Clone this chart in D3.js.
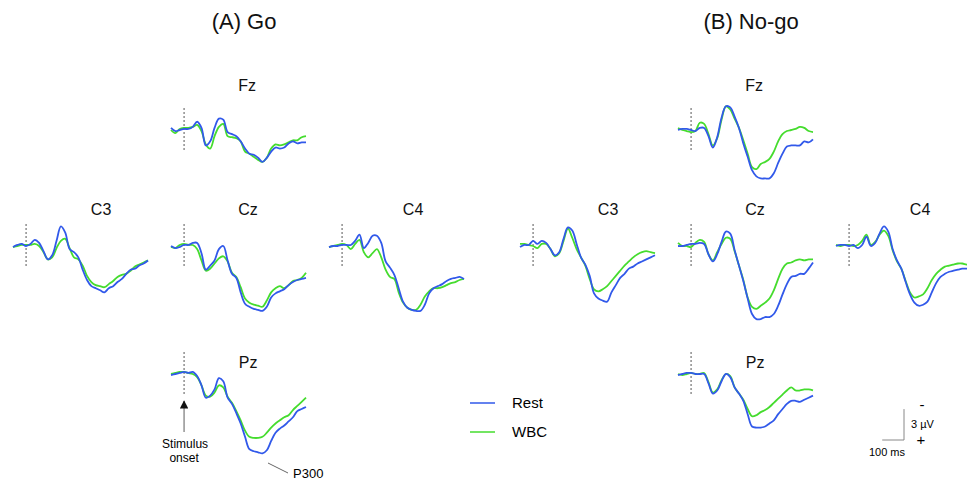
<!DOCTYPE html>
<html>
<head>
<meta charset="utf-8">
<script src="https://cdn.jsdelivr.net/npm/d3@7"></script>
<style>
  body { margin: 0; background: #fff; }
  svg { font-family: "Liberation Sans", Arial, sans-serif; }
</style>
</head>
<body>
<svg id="chart" width="967" height="483"></svg>
<script>
// sample times (ms), every 20 ms from -60 to 560
var times = [-60,-40,-20,0,20,40,60,80,100,120,140,160,180,200,220,240,260,280,300,320,340,360,380,400,420,440,460,480,500,520,540,560];

var conditions = ["Go", "No-go"];
var conditionTitles = ["(A) Go", "(B) No-go"];
var electrodes = ["Fz", "C3", "Cz", "C4", "Pz"];
var seriesNames = ["Rest", "WBC"];

// amplitudes in microvolts, positive plotted downward
var goFzRest = [-0.2,0.1,0,-0.1,-0.1,-0.3,-0.8,-0.2,1.5,1.1,-0.2,-1.1,-1.0,0.2,0.4,0.6,1.1,1.8,2.3,2.4,2.7,3.1,2.7,2.1,1.7,1.8,1.7,1.3,1.1,1.3,1.2,1.2];
var goFzWbc  = [0,0.3,-0.1,-0.2,-0.2,-0.3,-0.5,0.1,1.4,1.8,0.6,-0.3,-0.6,0.6,0.7,0.8,1.1,2.1,2.3,2.6,2.9,3.1,2.7,1.8,1.4,1.5,1.4,1.2,1.0,1.0,0.7,0.6];
var goC3Rest = [0.1,-0.1,-0.2,0,-0.2,-0.6,-0.3,0.5,1.3,0.9,-0.5,-1.9,-1.3,0.3,0.6,1.1,2.3,3.3,3.9,4.1,4.3,4.5,4.1,3.9,3.5,3.2,2.7,2.3,2.2,1.9,1.7,1.4];
var goC3Wbc  = [0.1,0,-0.1,-0.1,-0.1,-0.2,0,0.6,1.3,1.1,0.2,-0.5,-0.7,0.2,1.1,1.3,1.9,2.9,3.5,3.8,3.9,4.0,3.7,3.4,3.0,2.8,2.7,2.4,2.0,1.8,1.6,1.4];
var goCzRest = [0,0.2,0.1,-0.1,-0.1,-0.3,-0.3,0.7,2.3,1.9,1.4,0.3,0,1.4,2.7,3.1,4.5,5.6,5.9,6.1,6.2,6.3,5.9,5.0,4.6,4.4,4.2,3.8,3.5,3.3,3.2,3.1];
var goCzWbc  = [0.1,0.2,-0.1,-0.2,-0.1,-0.1,0.3,1.4,2.4,2.2,1.7,1.2,1.0,1.5,2.6,3.0,4.0,5.1,5.5,5.7,5.8,5.9,5.3,4.5,4.1,3.9,4.1,3.8,3.4,3.3,3.1,2.6];
var goC4Rest = [0.1,0,0,-0.1,-0.1,-0.1,-0.5,-1.1,0.2,-0.3,-1.0,-1.0,-0.3,1.5,2.1,2.8,4.1,5.4,6.0,6.2,6.3,6.3,5.7,4.6,4.1,3.9,3.7,3.4,3.2,3.1,3.0,3.2];
var goC4Wbc  = [0.1,0,-0.1,-0.2,-0.1,0.3,-0.2,-0.6,0.6,1.1,0.7,0.3,1.1,2.3,3.0,3.2,4.5,5.5,6.0,6.2,6.2,5.7,4.9,4.4,4.1,4.1,4.0,3.8,3.6,3.5,3.3,3.2];
var goPzRest = [0.1,0,-0.1,-0.2,-0.1,-0.2,0.2,1.1,2.3,2.1,1.5,0.4,0.7,2.3,2.9,3.8,4.8,6.1,7.3,7.5,7.6,7.7,7.4,6.5,5.7,5.3,5.0,4.6,4.2,3.6,3.4,3.2];
var goPzWbc  = [0,-0.1,-0.2,-0.2,-0.1,0,0.3,1.1,2.1,2.2,1.8,1.1,1.3,2.2,2.8,3.6,4.5,5.5,6.1,6.2,6.2,6.1,5.7,5.2,4.8,4.5,4.2,4.0,3.5,3.1,2.7,2.3];

var nogoFzRest = [0,-0.1,-0.1,0,0.1,-0.2,-0.2,0.6,1.7,0.7,-1.2,-2.3,-2.2,-1.3,-0.2,1.3,2.6,3.9,4.5,4.7,4.7,4.7,4.2,3.2,2.3,1.6,1.5,1.5,1.5,1.1,1.2,0.9];
var nogoFzWbc  = [-0.2,0,0.1,0.2,0.1,-0.7,-0.6,0.4,1.5,0.8,-1.0,-2.3,-2.0,-1.1,-0.2,1.0,2.3,3.6,3.8,3.3,3.1,2.8,2.1,1.1,0.4,0.1,0,-0.1,-0.3,-0.2,0.1,0.2];
var nogoC3Rest = [0.1,-0.1,-0.1,-0.5,-0.2,-0.5,-0.3,0.3,0.9,0.6,-0.7,-1.8,-1.5,-0.2,1.1,1.8,2.9,4.6,5.1,5.3,5.4,4.5,3.8,3.1,2.7,2.2,2.0,1.7,1.5,1.3,1.1,0.9];
var nogoC3Wbc  = [-0.2,-0.2,-0.1,0,0.2,-0.2,-0.2,0.3,1.0,0.7,-0.5,-1.7,-0.8,0.3,1.1,1.9,3.2,4.2,4.4,4.2,3.9,3.4,2.9,2.4,1.9,1.5,1.1,0.8,0.6,0.5,0.6,0.7];
var nogoCzRest = [0,0,-0.1,-0.2,-0.2,-0.3,-0.2,0.8,1.5,0.8,-0.4,-1.4,-1.2,0.4,1.9,3.4,5.1,6.6,7.1,7.1,6.9,6.9,6.6,5.8,4.7,3.7,3.0,2.9,2.7,2.7,2.2,1.6];
var nogoCzWbc  = [-0.3,0,0,0.1,-0.3,-0.6,-0.4,0.8,1.4,0.6,-0.2,-0.8,-0.7,0.5,1.9,3.3,5.0,5.9,6.1,5.8,5.5,5.1,4.3,3.2,2.2,1.7,1.6,1.4,1.3,1.4,1.3,1.3];
var nogoC4Rest = [0,-0.1,-0.1,0,-0.1,0.2,-0.1,-0.9,0,-0.3,-1.2,-1.9,-1.4,0.3,1.4,2.2,3.5,4.7,5.5,5.8,5.7,5.4,4.5,3.6,3.0,2.7,2.5,2.4,2.3,2.2,2.2,2.2];
var nogoC4Wbc  = [-0.1,0,-0.1,-0.1,0,-0.1,-0.5,-1.1,-0.1,-0.4,-1.1,-1.5,-1.0,0.4,1.5,2.2,3.4,4.5,5.0,4.9,4.7,4.1,3.3,2.7,2.3,2.0,1.9,1.8,1.7,1.7,1.8,1.8];
var nogoPzRest = [0.1,0,-0.1,-0.1,0,0,0,0.9,1.9,1.6,0.7,0,0.3,1.3,1.9,2.6,3.9,5.1,5.2,5.2,5.1,4.8,4.5,3.9,3.4,2.9,2.6,2.6,2.7,2.5,2.3,2.1];
var nogoPzWbc  = [0,0.1,0,-0.1,0,0,-0.1,0.8,1.8,1.5,0.6,0,0.2,1.3,1.9,2.5,3.4,4.1,4.0,3.7,3.5,3.2,2.8,2.4,2.0,1.6,1.3,1.6,1.6,1.5,1.5,1.6];

var traces = {
  "Go":    { Fz: [goFzRest, goFzWbc], C3: [goC3Rest, goC3Wbc], Cz: [goCzRest, goCzWbc], C4: [goC4Rest, goC4Wbc], Pz: [goPzRest, goPzWbc] },
  "No-go": { Fz: [nogoFzRest, nogoFzWbc], C3: [nogoC3Rest, nogoC3Wbc], Cz: [nogoCzRest, nogoCzWbc], C4: [nogoC4Rest, nogoC4Wbc], Pz: [nogoPzRest, nogoPzWbc] }
};

// layout
var colors = { Rest: "#3159ea", WBC: "#45dc2e" };
var groupLeft = { "Go": 13, "No-go": 520 };
var colStep = 158;
var rowBase = [130, 246, 374];
var rowTitle = [85, 209, 362];
var grid = {                       // col, row, title offset from onset line
  Fz: [1, 0, 63], C3: [0, 1, 75], Cz: [1, 1, 64], C4: [2, 1, 71], Pz: [1, 2, 64]
};

var svg = d3.select("#chart");

var x = d3.scaleLinear().domain([-60, 560]).range([0, 135]);
var y = d3.scaleLinear().domain([-10, 10]).range([-103, 103]);

var line = d3.line()
    .x(function(d, i) { return x(times[i]); })
    .y(function(d) { return y(d); })
    .curve(d3.curveCatmullRom);

conditions.forEach(function(cond, ci) {
    var gLeft = groupLeft[cond];
    svg.append("text")
        .attr("x", gLeft + colStep + x(0) + 60)
        .attr("y", 29)
        .attr("text-anchor", "middle")
        .style("font-size", "22px")
        .style("fill", "#111")
        .text(conditionTitles[ci]);

    electrodes.forEach(function(el) {
        var g = grid[el];
        var px = gLeft + g[0] * colStep;
        var py = rowBase[g[1]];
        var panel = svg.append("g").attr("transform", "translate(" + px + "," + py + ")");

        panel.append("line")
            .attr("x1", x(0)).attr("x2", x(0))
            .attr("y1", -22).attr("y2", 22)
            .attr("stroke", "#555")
            .attr("stroke-width", 1)
            .attr("stroke-dasharray", "2,2");

        // WBC first so Rest sits on top
        [1, 0].forEach(function(si) {
            panel.append("path")
                .datum(traces[cond][el][si])
                .attr("d", line)
                .attr("fill", "none")
                .attr("stroke", colors[seriesNames[si]])
                .attr("stroke-width", 1.8)
                .attr("stroke-linejoin", "round");
        });

        svg.append("text")
            .attr("x", px + x(0) + g[2])
            .attr("y", rowTitle[g[1]] + 6)
            .attr("text-anchor", "middle")
            .style("font-size", "16px")
            .style("fill", "#111")
            .text(el);
    });
});

// stimulus onset arrow (Go, Pz)
var onsetX = groupLeft["Go"] + grid.Pz[0] * colStep + x(0);
svg.append("defs").append("marker")
    .attr("id", "arrow")
    .attr("viewBox", "0 0 10 10")
    .attr("refX", 9).attr("refY", 5)
    .attr("markerWidth", 7).attr("markerHeight", 7)
    .attr("orient", "auto")
    .append("path")
    .attr("d", "M0,0L10,5L0,10z")
    .attr("fill", "#111");
svg.append("line")
    .attr("x1", onsetX).attr("x2", onsetX)
    .attr("y1", 432).attr("y2", 401)
    .attr("stroke", "#777")
    .attr("stroke-width", 1.2)
    .attr("marker-end", "url(#arrow)");
svg.append("text").attr("x", onsetX + 1).attr("y", 448)
    .attr("text-anchor", "middle").style("font-size", "12px").text("Stimulus");
svg.append("text").attr("x", onsetX).attr("y", 462)
    .attr("text-anchor", "middle").style("font-size", "12px").text("onset");

// P300 label
svg.append("line")
    .attr("x1", 268).attr("y1", 463).attr("x2", 288).attr("y2", 473)
    .attr("stroke", "#666").attr("stroke-width", 1);
svg.append("text").attr("x", 293).attr("y", 478)
    .style("font-size", "13px").text("P300");

// legend
seriesNames.forEach(function(name, i) {
    var ly = 403 + i * 29;
    svg.append("line")
        .attr("x1", 470).attr("x2", 495)
        .attr("y1", ly).attr("y2", ly)
        .attr("stroke", colors[name]).attr("stroke-width", 1.5);
    svg.append("text")
        .attr("x", 512).attr("y", ly + 5)
        .style("font-size", "15px")
        .text(name);
});

// scale bar: 100 ms by 3 uV
var sbX = 904, sbY = 440;
var sbW = x(100) - x(0), sbH = y(3) - y(0);
svg.append("path")
    .attr("d", "M" + (sbX - sbW) + "," + sbY + "H" + sbX + "V" + (sbY - sbH))
    .attr("fill", "none").attr("stroke", "#888").attr("stroke-width", 1);
svg.append("text").attr("x", 922).attr("y", 410).attr("text-anchor", "middle")
    .style("font-size", "15px").text("-");
svg.append("text").attr("x", 911).attr("y", 428)
    .style("font-size", "11px").text("3 \u00b5V");
svg.append("text").attr("x", 921).attr("y", 445).attr("text-anchor", "middle")
    .style("font-size", "15px").text("+");
svg.append("text").attr("x", 887).attr("y", 456).attr("text-anchor", "middle")
    .style("font-size", "11px").text("100 ms");
</script>
</body>
</html>
